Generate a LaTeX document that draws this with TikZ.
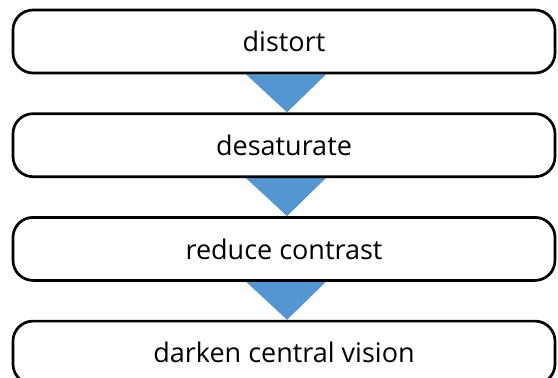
\documentclass[tikz,border=0pt]{standalone}
\usepackage{fontspec}
\setmainfont{Open Sans}
\usepackage{xcolor}
\definecolor{stepblue}{RGB}{84,150,210}
\tikzset{%
    stepbox/.style={draw=black, line width=2.7pt, rounded corners=20pt, fill=white, minimum width=542pt, minimum height=63pt, font=\fontsize{27}{32}\selectfont},
    funnel/.style={fill=stepblue}
}
\usetikzlibrary{positioning, backgrounds}

\begin{document}
\begin{tikzpicture}[node distance=38pt]
    \useasboundingbox (0,0) rectangle (558pt,-378pt);
    \node[stepbox] (distort) at (284pt,-41.5pt) {distort};
    \node[stepbox, below=of distort] (desat) {desaturate};
    \node[stepbox, below=of desat] (contrast) {reduce contrast};
    \node[stepbox, below=of contrast] (darken) {darken central vision};
    \begin{scope}[on background layer]
        \foreach \a/\b in {distort/desat, desat/contrast, contrast/darken}
            \fill[funnel] ([xshift=-38pt]\a.south) -- ([xshift=42pt]\a.south) -- ([xshift=3pt]\b.north) -- cycle;
    \end{scope}
\end{tikzpicture}
\end{document}
